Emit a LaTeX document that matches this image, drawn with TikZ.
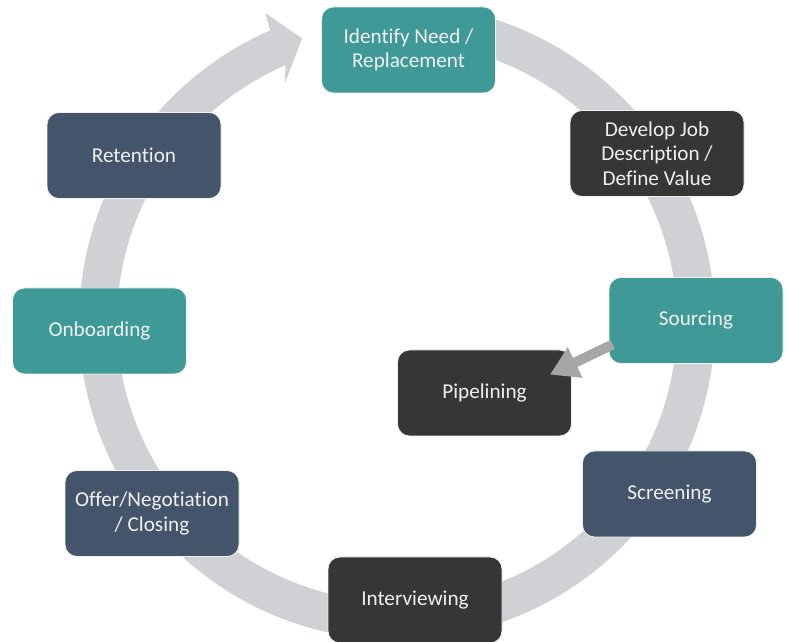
\documentclass[tikz,border=0pt]{standalone}
\usepackage{fontspec}
\setmainfont[Ligatures={NoCommon}]{Carlito}
\usetikzlibrary{arrows.meta,calc}
\definecolor{ringgrey}{HTML}{D0D1D5}
\definecolor{arrgrey}{HTML}{A6A6A6}
\definecolor{tealbox}{HTML}{3F9A97}
\definecolor{slatebox}{HTML}{44546A}
\definecolor{darkbox}{HTML}{383634}
\definecolor{boxtext}{HTML}{F0F0F0}
\tikzset{
  stage/.style={rounded corners=12pt, minimum width=174pt, minimum height=86pt,
    inner sep=0pt, align=center, text=boxtext, draw=white!88!gray, line width=0.8pt,
    font=\fontsize{21.2}{24.5}\selectfont},
  tealst/.style={stage, fill=tealbox},
  slatest/.style={stage, fill=slatebox},
  darkst/.style={stage, fill=darkbox},
  flowarrow/.style={draw=arrgrey, line width=10pt, -{Triangle[length=28pt,width=32pt]}}
}
\begin{document}
\begin{tikzpicture}[x=1pt,y=1pt]
\useasboundingbox (0,0) rectangle (790,642);
% circular ring arrow
\begin{scope}[shift={(397,320)}]
\fill[ringgrey] (80:318) arc[start angle=80, end angle=-246.5, radius=318]
  -- (-246.9:336) -- (-251.5:299) -- (-244.9:264) -- (-246.5:280)
  arc[start angle=-246.5, end angle=80, radius=280] -- cycle;
\end{scope}
% stages
\node[tealst]  (ident)   at (408.5,592) {Identify Need /\\Replacement};
\node[darkst]  (develop) at (657,488.5) {Develop Job\\Description /\\Define Value};
\node[tealst]  (source)  at (696,321.5) {Sourcing};
\node[darkst]  (pipe)    at (484.5,249) {Pipelining};
\node[slatest] (screen)  at (669.5,148) {Screening};
\node[darkst]  (inter)   at (415,42)    {Interviewing};
\node[slatest] (offer)   at (152,128.5) {Offer/Negotiation\\/ Closing};
\node[tealst]  (onboard) at (99.5,311)  {Onboarding};
\node[slatest] (retain)  at (134,486.5) {Retention};
% sourcing -> pipelining
\draw[flowarrow] ($(source.west)+(4,-24)$) -- ($(pipe.north east)+(-22,-25)$);
\end{tikzpicture}
\end{document}
